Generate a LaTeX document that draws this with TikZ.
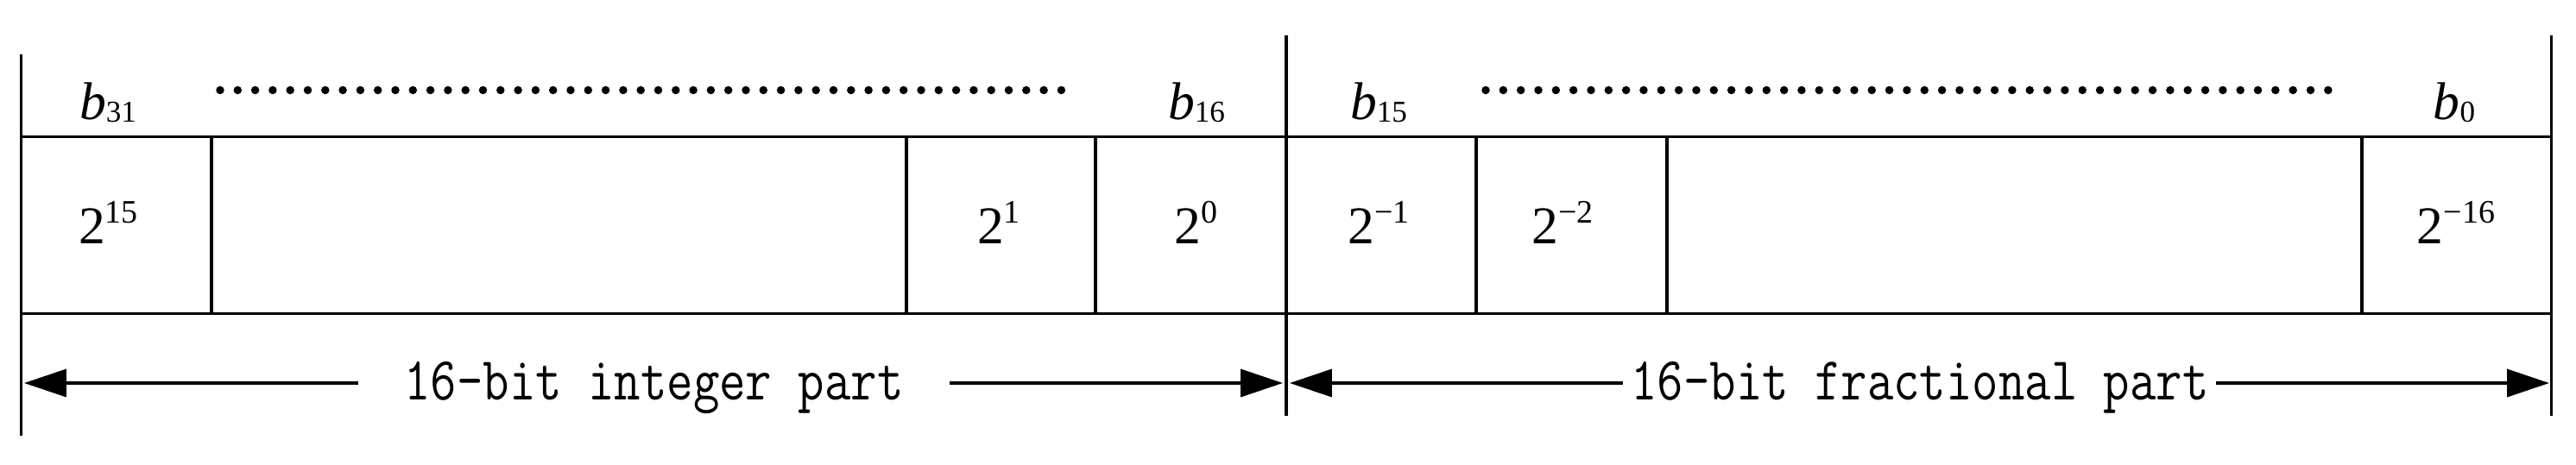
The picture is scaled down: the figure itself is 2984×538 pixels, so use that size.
\documentclass[tikz,border=0pt]{standalone}
\usepackage{fontspec}
\usepackage{graphicx}
\setmainfont{Liberation Serif}
\usetikzlibrary{arrows.meta}
\newcommand\mysub[1]{\raisebox{-1.1pt}{\fontsize{10pt}{12pt}\selectfont #1}}
\newcommand\mysup[1]{\raisebox{6.8pt}{\fontsize{10.8pt}{12pt}\selectfont #1}}
\begin{document}
\begin{tikzpicture}[x=0.01cm,y=-0.01cm,
  frame/.style={line width=0.95pt},
  lab/.style={inner sep=0pt, anchor=base, font=\fontsize{17.5pt}{20pt}\selectfont},
  part/.style={inner sep=0pt, anchor=base, font=\fontsize{16.8pt}{20pt}\ttfamily},
  arr/.style={line width=0.95pt, -{Triangle[length=13.9pt,width=9.1pt]}}]
\useasboundingbox (0,0) rectangle (2984,538);
% long vertical lines
\draw[frame] (24.5,63) -- (24.5,505);
\draw[frame] (1490,41) -- (1490,481.5);
\draw[frame] (2955.5,41) -- (2955.5,481.5);
% horizontal lines
\draw[frame] (24.5,158.5) -- (2955.5,158.5);
\draw[frame] (24.5,363.5) -- (2955.5,363.5);
% cell dividers
\foreach \xx in {245,1050,1269,1710,1931,2736}
  \draw[frame] (\xx,158.5) -- (\xx,363.5);
% dotted rows
\foreach \i in {0,...,48} {
  \fill (255+\i*20.3,104.5) circle[radius=1.35pt];
  \fill (1721+\i*20.33,104.5) circle[radius=1.35pt];
}
% bit labels
\node[lab] (b31) at (125,138) {\textit{b}\mysub{31}};
\node[lab] (b16) at (1386,138) {\textit{b}\mysub{16}};
\node[lab] (b15) at (1597,138) {\textit{b}\mysub{15}};
\node[lab] (b0)  at (2843,138) {\textit{b}\mysub{0}};
% weights
\node[lab] (w15) at (125.5,282) {2\mysup{15}};
\node[lab] (w1)  at (1157,282) {2\mysup{1}};
\node[lab] (w0)  at (1385.5,282) {2\mysup{0}};
\node[lab] (wm1) at (1597,282) {2\mysup{−1}};
\node[lab] (wm2) at (1810,282) {2\mysup{−2}};
\node[lab] (wm16) at (2845,282) {2\mysup{−16}};
% span arrows
\coordinate (l1) at (28,444);
\coordinate (r1) at (1486,444);
\coordinate (l2) at (1494,444);
\coordinate (r2) at (2953,444);
\node[part] (t1) at (757.5,463) {\scalebox{1}[1.2]{16-bit integer part}};
\node[part] (t2) at (2224,463) {\scalebox{1}[1.2]{16-bit fractional part}};
\coordinate (t1w) at ([xshift=-15pt]t1.west);
\coordinate (t1e) at ([xshift=15pt]t1.east);
\coordinate (t2w) at ([xshift=-2.5pt]t2.west);
\coordinate (t2e) at ([xshift=2.2pt]t2.east);
\draw[arr] (t1w |- l1) -- (l1);
\draw[arr] (t1e |- r1) -- (r1);
\draw[arr] (t2w |- l2) -- (l2);
\draw[arr] (t2e |- r2) -- (r2);
\end{tikzpicture}
\end{document}
